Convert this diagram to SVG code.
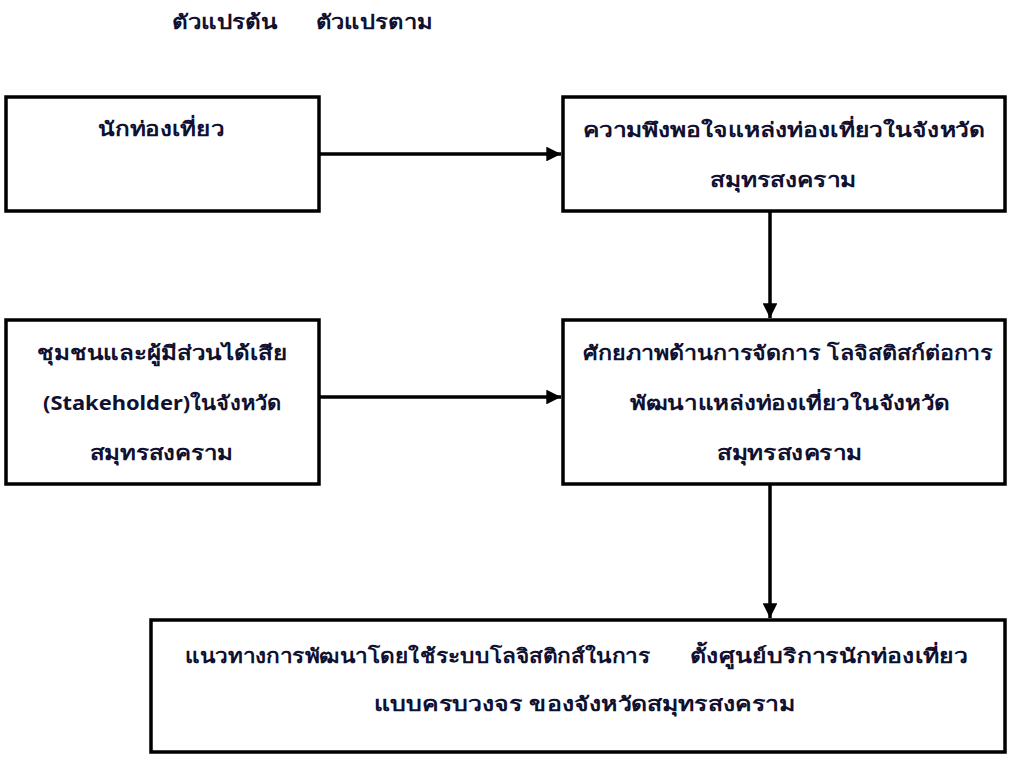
<svg xmlns="http://www.w3.org/2000/svg" width="1024" height="759" viewBox="0 0 1024 759">
<style>
.bg{fill:#ffffff}
.box{fill:#ffffff;stroke:#000000;stroke-width:3.5}
.t{font-family:"Noto Sans","DejaVu Sans",sans-serif;font-size:20px;font-weight:bold;fill:#101030}
.c{stroke:#000000;stroke-width:3.5;fill:none}
</style>
<defs>
<marker id="ah" viewBox="0 0 10 10" refX="10" refY="5" markerWidth="4.2" markerHeight="4.2" markerUnits="strokeWidth" orient="auto">
<path d="M0,0 L10,5 L0,10 Z" fill="#000000"/>
</marker>
</defs>
<rect class="bg" x="0" y="0" width="1024" height="759"/>
<g id="header">
<text class="t" x="172" y="29" textLength="106" lengthAdjust="spacingAndGlyphs">ตัวแปรต้น</text>
<text class="t" x="316" y="29" textLength="116" lengthAdjust="spacingAndGlyphs">ตัวแปรตาม</text>
</g>
<g id="connectors">
<line class="c" x1="320" y1="154" x2="561" y2="154" marker-end="url(#ah)"/>
<line class="c" x1="770" y1="211" x2="770" y2="318" marker-end="url(#ah)"/>
<line class="c" x1="320" y1="397" x2="561" y2="397" marker-end="url(#ah)"/>
<line class="c" x1="770" y1="484" x2="770" y2="618" marker-end="url(#ah)"/>
</g>
<g id="node-tourist">
<rect class="box" x="6" y="97" width="313" height="114"/>
<text class="t" x="98" y="136" textLength="126" lengthAdjust="spacingAndGlyphs">นักท่องเที่ยว</text>
</g>
<g id="node-satisfaction">
<rect class="box" x="563" y="97" width="442" height="114"/>
<text class="t" x="583" y="137" textLength="402" lengthAdjust="spacingAndGlyphs">ความพึงพอใจแหล่งท่องเที่ยวในจังหวัด</text>
<text class="t" x="710" y="187" textLength="146" lengthAdjust="spacingAndGlyphs">สมุทรสงคราม</text>
</g>
<g id="node-community">
<rect class="box" x="6" y="320" width="313" height="164"/>
<text class="t" x="37" y="360" textLength="250" lengthAdjust="spacingAndGlyphs">ชุมชนและผู้มีส่วนได้เสีย</text>
<text class="t" x="43" y="410" textLength="238" lengthAdjust="spacingAndGlyphs">(Stakeholder)ในจังหวัด</text>
<text class="t" x="90" y="460" textLength="143" lengthAdjust="spacingAndGlyphs">สมุทรสงคราม</text>
</g>
<g id="node-potential">
<rect class="box" x="563" y="320" width="442" height="164"/>
<text class="t" x="583" y="360" textLength="410" lengthAdjust="spacingAndGlyphs">ศักยภาพด้านการจัดการ โลจิสติสก์ต่อการ</text>
<text class="t" x="630" y="410" textLength="320" lengthAdjust="spacingAndGlyphs">พัฒนาแหล่งท่องเที่ยวในจังหวัด</text>
<text class="t" x="717" y="460" textLength="145" lengthAdjust="spacingAndGlyphs">สมุทรสงคราม</text>
</g>
<g id="node-guideline">
<rect class="box" x="151" y="620" width="854" height="132"/>
<text class="t" x="185" y="663" textLength="465" lengthAdjust="spacingAndGlyphs">แนวทางการพัฒนาโดยใช้ระบบโลจิสติกส์ในการ</text>
<text class="t" x="690" y="663" textLength="278" lengthAdjust="spacingAndGlyphs">ตั้งศูนย์บริการนักท่องเที่ยว</text>
<text class="t" x="374" y="711" textLength="421" lengthAdjust="spacingAndGlyphs">แบบครบวงจร ของจังหวัดสมุทรสงคราม</text>
</g>
</svg>
